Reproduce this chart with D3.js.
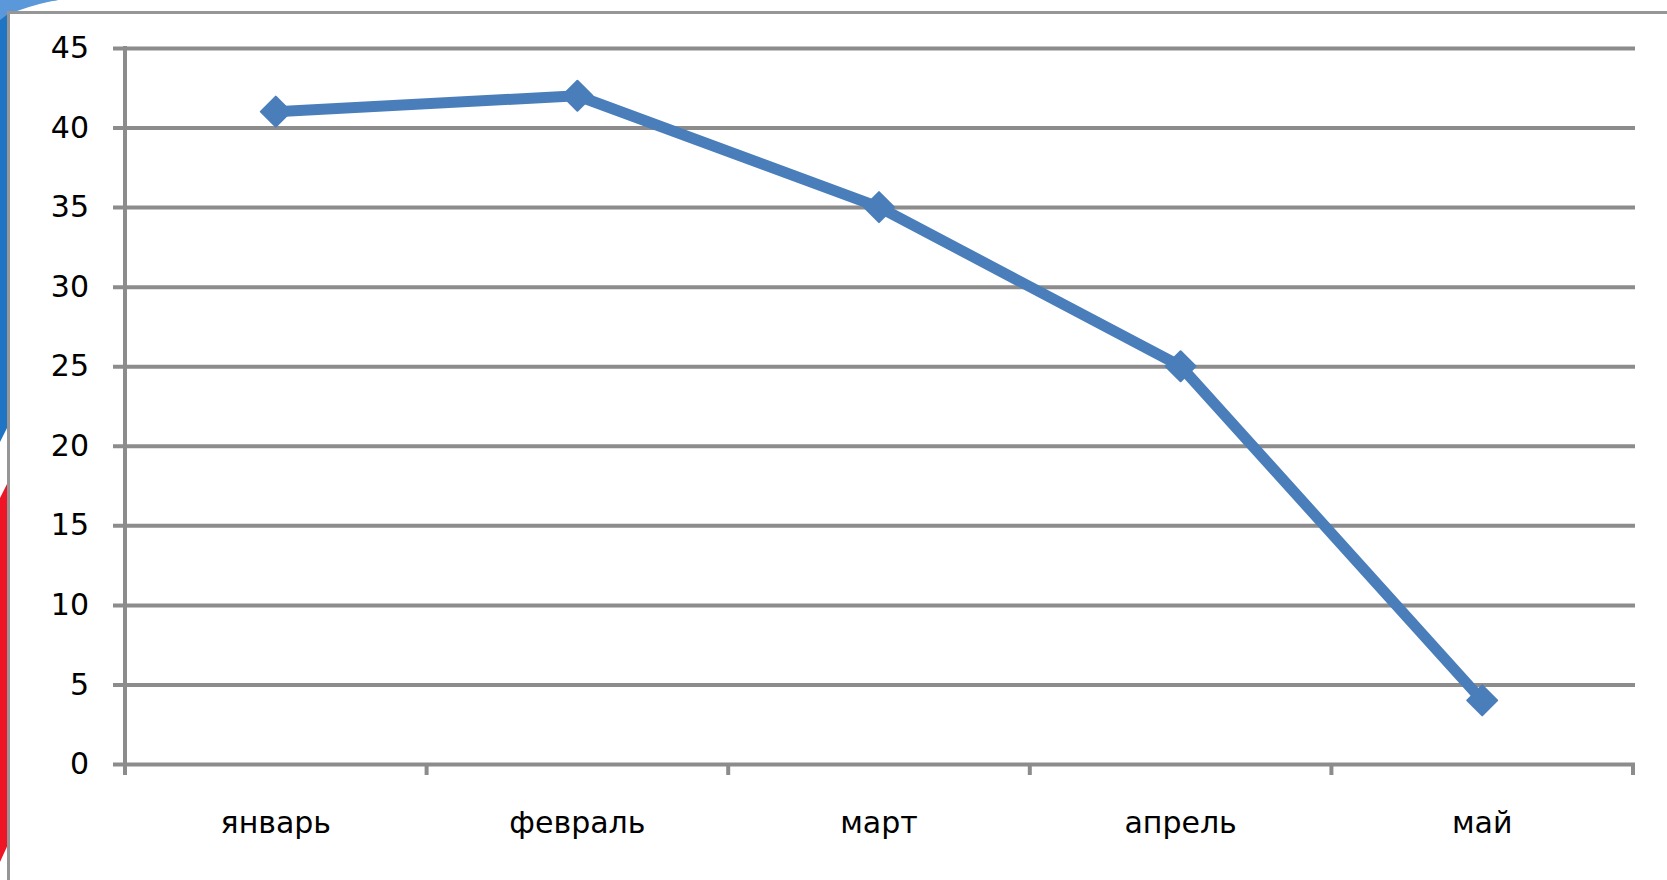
<!DOCTYPE html>
<html>
<head>
<meta charset="utf-8">
<script src="https://d3js.org/d3.v7.min.js"></script>
<style>
    body { margin: 0; overflow: hidden; background: #fff; }
    svg text { font-family: "DejaVu Sans", sans-serif; fill: #000; }
</style>
</head>
<body>
<svg></svg>
<script>
    const months = ["январь", "февраль", "март", "апрель", "май"];
    const values = [41, 42, 35, 25, 4];
    const yTicks = [0, 5, 10, 15, 20, 25, 30, 35, 40, 45];

    const width = 1667, height = 880;
    const plotLeft = 125, plotRight = 1633, plotTop = 48, plotBottom = 764;

    const svg = d3.select("svg").attr("width", width).attr("height", height);

    // slide decoration behind the chart frame
    svg.append("path")
        .attr("d", "M0,0 L58,0 Q30,2 10,14 L10,422 L0,442 Z")
        .attr("fill", "#1f74c4");
    svg.append("path")
        .attr("d", "M0,0 L58,0 Q40,3 20,10 L8,14 L0,20 Z")
        .attr("fill", "#5a98da");
    svg.append("path")
        .attr("d", "M10,478 L10,880 L0,880 L0,862 L0,498 Z")
        .attr("fill", "#ee1526");
    svg.append("path")
        .attr("d", "M0,862 L10,840 L10,880 L0,880 Z")
        .attr("fill", "#fff");

    // chart frame
    svg.append("rect")
        .attr("x", 8.5).attr("y", 12.5)
        .attr("width", width).attr("height", height)
        .attr("fill", "#fff")
        .attr("stroke", "#969696")
        .attr("stroke-width", 3);

    const x = d3.scaleBand().domain(months).range([plotLeft, plotRight]).padding(0);
    const y = d3.scaleLinear().domain([0, 45]).range([plotBottom, plotTop]);

    // gridlines + y labels
    const yAxis = svg.append("g")
        .attr("transform", `translate(${plotLeft},0)`)
        .call(d3.axisLeft(y).tickValues(yTicks).tickSize(-(plotRight - plotLeft + 2)).tickSizeOuter(0).tickPadding(36));
    yAxis.select(".domain").remove();
    yAxis.selectAll(".tick line")
        .attr("x1", -12)
        .attr("stroke", "#8c8c8c")
        .attr("stroke-width", 4);
    yAxis.selectAll(".tick text")
        .attr("font-size", 30)
        .style("font-family", "DejaVu Sans, sans-serif");

    // vertical axis line
    svg.append("line")
        .attr("x1", plotLeft).attr("x2", plotLeft)
        .attr("y1", plotTop - 2).attr("y2", plotBottom + 11)
        .attr("stroke", "#8c8c8c").attr("stroke-width", 4);

    // category boundary ticks
    const bounds = months.map(m => x(m)).concat([x(months[months.length - 1]) + x.bandwidth()]);
    svg.append("g").selectAll("line")
        .data(bounds.slice(1))
        .enter().append("line")
        .attr("x1", d => d).attr("x2", d => d)
        .attr("y1", plotBottom).attr("y2", plotBottom + 11)
        .attr("stroke", "#8c8c8c").attr("stroke-width", 4);

    // x labels
    const xAxis = svg.append("g")
        .attr("transform", `translate(0,${plotBottom})`)
        .call(d3.axisBottom(x).tickSize(0).tickPadding(48));
    xAxis.select(".domain").remove();
    xAxis.selectAll(".tick text")
        .attr("font-size", 30)
        .style("font-family", "DejaVu Sans, sans-serif");

    const pts = months.map((m, i) => [x(m) + x.bandwidth() / 2, y(values[i])]);

    svg.append("path")
        .attr("d", d3.line()(pts))
        .attr("fill", "none")
        .attr("stroke", "#4a7ebb")
        .attr("stroke-width", 11)
        .attr("stroke-linejoin", "round");

    const r = 15;
    svg.append("g").selectAll("path")
        .data(pts)
        .enter().append("path")
        .attr("d", d => `M${d[0]},${d[1] - r} L${d[0] + r},${d[1]} L${d[0]},${d[1] + r} L${d[0] - r},${d[1]} Z`)
        .attr("fill", "#4a7ebb")
        .attr("stroke", "#4a7ebb")
        .attr("stroke-width", 2)
        .attr("stroke-linejoin", "round");
</script>
</body>
</html>
